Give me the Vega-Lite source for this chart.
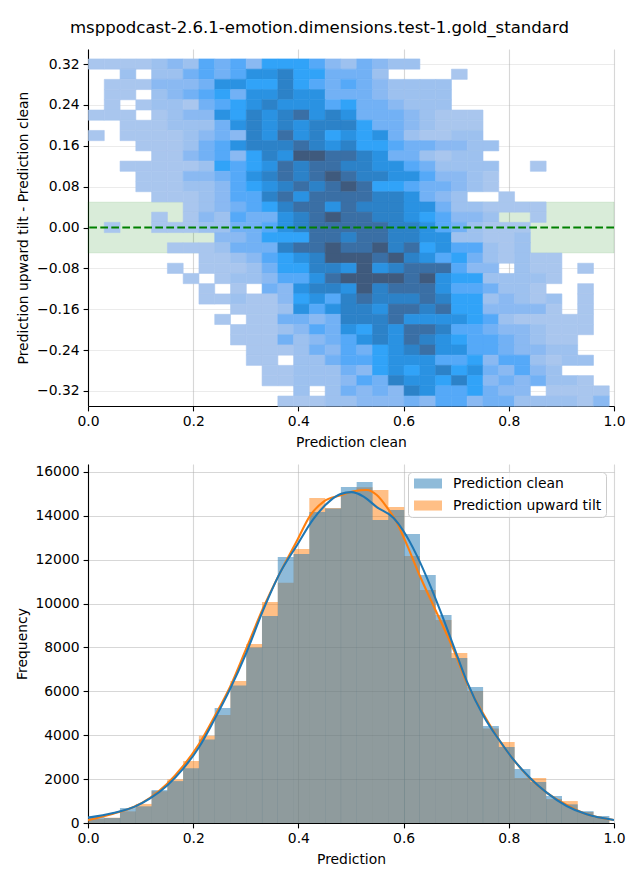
{"$schema":"https://vega.github.io/schema/vega-lite/v6.json","padding":{"left":15,"top":20,"right":5,"bottom":5},"background":"white","config":{"font":"DejaVu Sans","view":{"stroke":null},"axis":{"labelFontSize":13.9,"titleFontSize":13.9,"titleFontWeight":"normal","labelColor":"black","titleColor":"black","domainColor":"black","tickColor":"black","domainWidth":1.1,"tickWidth":1.1,"tickSize":4.9,"labelPadding":4,"gridColor":"#b0b0b0","gridOpacity":0.5,"gridWidth":1.1,"labelFlush":false,"labelOverlap":false,"zindex":1}},"title":{"text":"msppodcast-2.6.1-emotion.dimensions.test-1.gold_standard","fontSize":16.57,"fontWeight":"normal","font":"DejaVu Sans","anchor":"start","dx":54,"offset":12},"spacing":14,"datasets":{"heat":[
{"x":0.015,"y":0.321,"n":1},{"x":0.045,"y":0.321,"n":1},{"x":0.075,"y":0.321,"n":1},{"x":0.105,"y":0.321,"n":1},{"x":0.135,"y":0.321,"n":2},{"x":0.165,"y":0.321,"n":3},{"x":0.195,"y":0.321,"n":2},{"x":0.225,"y":0.321,"n":5},{"x":0.255,"y":0.321,"n":4},{"x":0.285,"y":0.321,"n":5},{"x":0.315,"y":0.321,"n":3},{"x":0.345,"y":0.321,"n":6},{"x":0.375,"y":0.321,"n":6},{"x":0.405,"y":0.321,"n":6},{"x":0.435,"y":0.321,"n":5},{"x":0.465,"y":0.321,"n":3},{"x":0.495,"y":0.321,"n":2},{"x":0.525,"y":0.321,"n":4},{"x":0.555,"y":0.321,"n":3},{"x":0.585,"y":0.321,"n":2},{"x":0.615,"y":0.321,"n":2},
{"x":0.075,"y":0.301,"n":2},{"x":0.135,"y":0.301,"n":2},{"x":0.165,"y":0.301,"n":2},{"x":0.195,"y":0.301,"n":4},{"x":0.225,"y":0.301,"n":5},{"x":0.255,"y":0.301,"n":4},{"x":0.285,"y":0.301,"n":5},{"x":0.315,"y":0.301,"n":7},{"x":0.345,"y":0.301,"n":7},{"x":0.375,"y":0.301,"n":8},{"x":0.405,"y":0.301,"n":6},{"x":0.435,"y":0.301,"n":6},{"x":0.465,"y":0.301,"n":4},{"x":0.495,"y":0.301,"n":4},{"x":0.525,"y":0.301,"n":4},{"x":0.555,"y":0.301,"n":2},{"x":0.705,"y":0.301,"n":1},
{"x":0.045,"y":0.281,"n":1},{"x":0.075,"y":0.281,"n":1},{"x":0.105,"y":0.281,"n":1},{"x":0.135,"y":0.281,"n":3},{"x":0.165,"y":0.281,"n":3},{"x":0.195,"y":0.281,"n":3},{"x":0.225,"y":0.281,"n":4},{"x":0.255,"y":0.281,"n":7},{"x":0.285,"y":0.281,"n":7},{"x":0.315,"y":0.281,"n":6},{"x":0.345,"y":0.281,"n":6},{"x":0.375,"y":0.281,"n":8},{"x":0.405,"y":0.281,"n":6},{"x":0.435,"y":0.281,"n":5},{"x":0.465,"y":0.281,"n":4},{"x":0.495,"y":0.281,"n":5},{"x":0.525,"y":0.281,"n":4},{"x":0.555,"y":0.281,"n":3},{"x":0.585,"y":0.281,"n":2},{"x":0.615,"y":0.281,"n":2},{"x":0.645,"y":0.281,"n":2},{"x":0.675,"y":0.281,"n":2},
{"x":0.045,"y":0.261,"n":1},{"x":0.075,"y":0.261,"n":1},{"x":0.135,"y":0.261,"n":2},{"x":0.165,"y":0.261,"n":3},{"x":0.195,"y":0.261,"n":4},{"x":0.225,"y":0.261,"n":5},{"x":0.255,"y":0.261,"n":6},{"x":0.285,"y":0.261,"n":4},{"x":0.315,"y":0.261,"n":7},{"x":0.345,"y":0.261,"n":7},{"x":0.375,"y":0.261,"n":8},{"x":0.405,"y":0.261,"n":7},{"x":0.435,"y":0.261,"n":7},{"x":0.465,"y":0.261,"n":4},{"x":0.495,"y":0.261,"n":4},{"x":0.525,"y":0.261,"n":4},{"x":0.555,"y":0.261,"n":3},{"x":0.585,"y":0.261,"n":2},{"x":0.615,"y":0.261,"n":2},{"x":0.645,"y":0.261,"n":2},{"x":0.675,"y":0.261,"n":2},
{"x":0.045,"y":0.241,"n":1},{"x":0.105,"y":0.241,"n":1},{"x":0.135,"y":0.241,"n":2},{"x":0.165,"y":0.241,"n":2},{"x":0.195,"y":0.241,"n":1},{"x":0.225,"y":0.241,"n":4},{"x":0.255,"y":0.241,"n":5},{"x":0.285,"y":0.241,"n":6},{"x":0.315,"y":0.241,"n":7},{"x":0.345,"y":0.241,"n":8},{"x":0.375,"y":0.241,"n":7},{"x":0.405,"y":0.241,"n":7},{"x":0.435,"y":0.241,"n":7},{"x":0.465,"y":0.241,"n":5},{"x":0.495,"y":0.241,"n":6},{"x":0.525,"y":0.241,"n":4},{"x":0.555,"y":0.241,"n":4},{"x":0.585,"y":0.241,"n":3},{"x":0.615,"y":0.241,"n":2},{"x":0.645,"y":0.241,"n":2},{"x":0.675,"y":0.241,"n":2},
{"x":0.015,"y":0.221,"n":1},{"x":0.045,"y":0.221,"n":1},{"x":0.075,"y":0.221,"n":1},{"x":0.135,"y":0.221,"n":1},{"x":0.165,"y":0.221,"n":2},{"x":0.195,"y":0.221,"n":3},{"x":0.225,"y":0.221,"n":3},{"x":0.255,"y":0.221,"n":7},{"x":0.285,"y":0.221,"n":6},{"x":0.315,"y":0.221,"n":8},{"x":0.345,"y":0.221,"n":7},{"x":0.375,"y":0.221,"n":8},{"x":0.405,"y":0.221,"n":9},{"x":0.435,"y":0.221,"n":7},{"x":0.465,"y":0.221,"n":8},{"x":0.495,"y":0.221,"n":7},{"x":0.525,"y":0.221,"n":4},{"x":0.555,"y":0.221,"n":4},{"x":0.585,"y":0.221,"n":4},{"x":0.615,"y":0.221,"n":3},{"x":0.645,"y":0.221,"n":2},{"x":0.675,"y":0.221,"n":1},{"x":0.705,"y":0.221,"n":1},{"x":0.735,"y":0.221,"n":1},
{"x":0.075,"y":0.201,"n":1},{"x":0.105,"y":0.201,"n":1},{"x":0.135,"y":0.201,"n":1},{"x":0.165,"y":0.201,"n":2},{"x":0.195,"y":0.201,"n":2},{"x":0.225,"y":0.201,"n":2},{"x":0.255,"y":0.201,"n":4},{"x":0.285,"y":0.201,"n":7},{"x":0.315,"y":0.201,"n":8},{"x":0.345,"y":0.201,"n":7},{"x":0.375,"y":0.201,"n":8},{"x":0.405,"y":0.201,"n":7},{"x":0.435,"y":0.201,"n":8},{"x":0.465,"y":0.201,"n":8},{"x":0.495,"y":0.201,"n":8},{"x":0.525,"y":0.201,"n":6},{"x":0.555,"y":0.201,"n":4},{"x":0.585,"y":0.201,"n":4},{"x":0.615,"y":0.201,"n":3},{"x":0.645,"y":0.201,"n":2},{"x":0.675,"y":0.201,"n":1},{"x":0.705,"y":0.201,"n":1},{"x":0.735,"y":0.201,"n":1},
{"x":0.015,"y":0.181,"n":1},{"x":0.075,"y":0.181,"n":1},{"x":0.105,"y":0.181,"n":1},{"x":0.135,"y":0.181,"n":1},{"x":0.165,"y":0.181,"n":1},{"x":0.195,"y":0.181,"n":2},{"x":0.225,"y":0.181,"n":3},{"x":0.255,"y":0.181,"n":4},{"x":0.285,"y":0.181,"n":3},{"x":0.315,"y":0.181,"n":8},{"x":0.345,"y":0.181,"n":7},{"x":0.375,"y":0.181,"n":9},{"x":0.405,"y":0.181,"n":7},{"x":0.435,"y":0.181,"n":8},{"x":0.465,"y":0.181,"n":6},{"x":0.495,"y":0.181,"n":7},{"x":0.525,"y":0.181,"n":6},{"x":0.555,"y":0.181,"n":7},{"x":0.585,"y":0.181,"n":4},{"x":0.615,"y":0.181,"n":2},{"x":0.645,"y":0.181,"n":1},{"x":0.675,"y":0.181,"n":1},{"x":0.705,"y":0.181,"n":2},{"x":0.735,"y":0.181,"n":2},
{"x":0.105,"y":0.161,"n":1},{"x":0.135,"y":0.161,"n":1},{"x":0.165,"y":0.161,"n":1},{"x":0.195,"y":0.161,"n":2},{"x":0.225,"y":0.161,"n":4},{"x":0.255,"y":0.161,"n":5},{"x":0.285,"y":0.161,"n":7},{"x":0.315,"y":0.161,"n":8},{"x":0.345,"y":0.161,"n":8},{"x":0.375,"y":0.161,"n":8},{"x":0.405,"y":0.161,"n":9},{"x":0.435,"y":0.161,"n":8},{"x":0.465,"y":0.161,"n":7},{"x":0.495,"y":0.161,"n":8},{"x":0.525,"y":0.161,"n":6},{"x":0.555,"y":0.161,"n":6},{"x":0.585,"y":0.161,"n":5},{"x":0.615,"y":0.161,"n":4},{"x":0.645,"y":0.161,"n":4},{"x":0.675,"y":0.161,"n":3},{"x":0.705,"y":0.161,"n":3},{"x":0.735,"y":0.161,"n":2},{"x":0.765,"y":0.161,"n":2},
{"x":0.135,"y":0.141,"n":1},{"x":0.165,"y":0.141,"n":1},{"x":0.195,"y":0.141,"n":3},{"x":0.225,"y":0.141,"n":4},{"x":0.255,"y":0.141,"n":5},{"x":0.285,"y":0.141,"n":3},{"x":0.315,"y":0.141,"n":6},{"x":0.345,"y":0.141,"n":8},{"x":0.375,"y":0.141,"n":7},{"x":0.405,"y":0.141,"n":10},{"x":0.435,"y":0.141,"n":10},{"x":0.465,"y":0.141,"n":9},{"x":0.495,"y":0.141,"n":9},{"x":0.525,"y":0.141,"n":8},{"x":0.555,"y":0.141,"n":7},{"x":0.585,"y":0.141,"n":4},{"x":0.615,"y":0.141,"n":4},{"x":0.645,"y":0.141,"n":2},{"x":0.675,"y":0.141,"n":1},{"x":0.705,"y":0.141,"n":2},{"x":0.735,"y":0.141,"n":2},
{"x":0.075,"y":0.121,"n":1},{"x":0.105,"y":0.121,"n":1},{"x":0.135,"y":0.121,"n":1},{"x":0.165,"y":0.121,"n":1},{"x":0.195,"y":0.121,"n":1},{"x":0.225,"y":0.121,"n":2},{"x":0.255,"y":0.121,"n":6},{"x":0.285,"y":0.121,"n":5},{"x":0.315,"y":0.121,"n":6},{"x":0.345,"y":0.121,"n":7},{"x":0.375,"y":0.121,"n":9},{"x":0.405,"y":0.121,"n":8},{"x":0.435,"y":0.121,"n":9},{"x":0.465,"y":0.121,"n":9},{"x":0.495,"y":0.121,"n":8},{"x":0.525,"y":0.121,"n":8},{"x":0.555,"y":0.121,"n":7},{"x":0.585,"y":0.121,"n":7},{"x":0.615,"y":0.121,"n":5},{"x":0.645,"y":0.121,"n":4},{"x":0.675,"y":0.121,"n":2},{"x":0.705,"y":0.121,"n":2},{"x":0.735,"y":0.121,"n":2},{"x":0.765,"y":0.121,"n":2},{"x":0.855,"y":0.121,"n":1},
{"x":0.105,"y":0.101,"n":1},{"x":0.135,"y":0.101,"n":1},{"x":0.165,"y":0.101,"n":1},{"x":0.195,"y":0.101,"n":3},{"x":0.225,"y":0.101,"n":3},{"x":0.255,"y":0.101,"n":4},{"x":0.285,"y":0.101,"n":5},{"x":0.315,"y":0.101,"n":7},{"x":0.345,"y":0.101,"n":8},{"x":0.375,"y":0.101,"n":9},{"x":0.405,"y":0.101,"n":8},{"x":0.435,"y":0.101,"n":9},{"x":0.465,"y":0.101,"n":10},{"x":0.495,"y":0.101,"n":9},{"x":0.525,"y":0.101,"n":8},{"x":0.555,"y":0.101,"n":8},{"x":0.585,"y":0.101,"n":7},{"x":0.615,"y":0.101,"n":7},{"x":0.645,"y":0.101,"n":5},{"x":0.675,"y":0.101,"n":3},{"x":0.705,"y":0.101,"n":3},{"x":0.735,"y":0.101,"n":2},{"x":0.765,"y":0.101,"n":1},
{"x":0.105,"y":0.081,"n":1},{"x":0.135,"y":0.081,"n":1},{"x":0.165,"y":0.081,"n":1},{"x":0.195,"y":0.081,"n":2},{"x":0.225,"y":0.081,"n":2},{"x":0.255,"y":0.081,"n":3},{"x":0.285,"y":0.081,"n":5},{"x":0.315,"y":0.081,"n":6},{"x":0.345,"y":0.081,"n":7},{"x":0.375,"y":0.081,"n":8},{"x":0.405,"y":0.081,"n":9},{"x":0.435,"y":0.081,"n":8},{"x":0.465,"y":0.081,"n":9},{"x":0.495,"y":0.081,"n":10},{"x":0.525,"y":0.081,"n":9},{"x":0.555,"y":0.081,"n":6},{"x":0.585,"y":0.081,"n":6},{"x":0.615,"y":0.081,"n":5},{"x":0.645,"y":0.081,"n":4},{"x":0.675,"y":0.081,"n":4},{"x":0.705,"y":0.081,"n":3},{"x":0.735,"y":0.081,"n":2},{"x":0.765,"y":0.081,"n":1},
{"x":0.135,"y":0.061,"n":1},{"x":0.165,"y":0.061,"n":1},{"x":0.195,"y":0.061,"n":1},{"x":0.225,"y":0.061,"n":2},{"x":0.255,"y":0.061,"n":3},{"x":0.285,"y":0.061,"n":5},{"x":0.315,"y":0.061,"n":5},{"x":0.345,"y":0.061,"n":8},{"x":0.375,"y":0.061,"n":9},{"x":0.405,"y":0.061,"n":7},{"x":0.435,"y":0.061,"n":9},{"x":0.465,"y":0.061,"n":9},{"x":0.495,"y":0.061,"n":9},{"x":0.525,"y":0.061,"n":9},{"x":0.555,"y":0.061,"n":8},{"x":0.585,"y":0.061,"n":8},{"x":0.615,"y":0.061,"n":7},{"x":0.645,"y":0.061,"n":4},{"x":0.675,"y":0.061,"n":3},{"x":0.705,"y":0.061,"n":2},{"x":0.795,"y":0.061,"n":1},
{"x":0.195,"y":0.041,"n":1},{"x":0.225,"y":0.041,"n":2},{"x":0.255,"y":0.041,"n":3},{"x":0.285,"y":0.041,"n":4},{"x":0.315,"y":0.041,"n":5},{"x":0.345,"y":0.041,"n":6},{"x":0.375,"y":0.041,"n":8},{"x":0.405,"y":0.041,"n":9},{"x":0.435,"y":0.041,"n":9},{"x":0.465,"y":0.041,"n":7},{"x":0.495,"y":0.041,"n":9},{"x":0.525,"y":0.041,"n":8},{"x":0.555,"y":0.041,"n":8},{"x":0.585,"y":0.041,"n":8},{"x":0.615,"y":0.041,"n":7},{"x":0.645,"y":0.041,"n":7},{"x":0.675,"y":0.041,"n":4},{"x":0.705,"y":0.041,"n":2},{"x":0.735,"y":0.041,"n":2},{"x":0.765,"y":0.041,"n":1},{"x":0.795,"y":0.041,"n":1},{"x":0.825,"y":0.041,"n":1},{"x":0.855,"y":0.041,"n":1},
{"x":0.135,"y":0.021,"n":1},{"x":0.195,"y":0.021,"n":1},{"x":0.225,"y":0.021,"n":3},{"x":0.255,"y":0.021,"n":2},{"x":0.285,"y":0.021,"n":5},{"x":0.315,"y":0.021,"n":4},{"x":0.345,"y":0.021,"n":4},{"x":0.375,"y":0.021,"n":7},{"x":0.405,"y":0.021,"n":8},{"x":0.435,"y":0.021,"n":9},{"x":0.465,"y":0.021,"n":10},{"x":0.495,"y":0.021,"n":9},{"x":0.525,"y":0.021,"n":9},{"x":0.555,"y":0.021,"n":8},{"x":0.585,"y":0.021,"n":8},{"x":0.615,"y":0.021,"n":7},{"x":0.645,"y":0.021,"n":6},{"x":0.675,"y":0.021,"n":5},{"x":0.705,"y":0.021,"n":3},{"x":0.735,"y":0.021,"n":3},{"x":0.765,"y":0.021,"n":2},{"x":0.855,"y":0.021,"n":1},
{"x":0.045,"y":0.001,"n":1},{"x":0.135,"y":0.001,"n":1},{"x":0.165,"y":0.001,"n":1},{"x":0.195,"y":0.001,"n":1},{"x":0.225,"y":0.001,"n":2},{"x":0.255,"y":0.001,"n":2},{"x":0.285,"y":0.001,"n":4},{"x":0.315,"y":0.001,"n":4},{"x":0.345,"y":0.001,"n":5},{"x":0.375,"y":0.001,"n":7},{"x":0.405,"y":0.001,"n":8},{"x":0.435,"y":0.001,"n":9},{"x":0.465,"y":0.001,"n":9},{"x":0.495,"y":0.001,"n":9},{"x":0.525,"y":0.001,"n":9},{"x":0.555,"y":0.001,"n":9},{"x":0.585,"y":0.001,"n":8},{"x":0.615,"y":0.001,"n":8},{"x":0.645,"y":0.001,"n":7},{"x":0.675,"y":0.001,"n":5},{"x":0.705,"y":0.001,"n":4},{"x":0.735,"y":0.001,"n":2},{"x":0.765,"y":0.001,"n":1},{"x":0.795,"y":0.001,"n":1},{"x":0.825,"y":0.001,"n":1},
{"x":0.255,"y":-0.019,"n":3},{"x":0.285,"y":-0.019,"n":3},{"x":0.315,"y":-0.019,"n":4},{"x":0.345,"y":-0.019,"n":6},{"x":0.375,"y":-0.019,"n":6},{"x":0.405,"y":-0.019,"n":6},{"x":0.435,"y":-0.019,"n":9},{"x":0.465,"y":-0.019,"n":9},{"x":0.495,"y":-0.019,"n":8},{"x":0.525,"y":-0.019,"n":9},{"x":0.555,"y":-0.019,"n":9},{"x":0.585,"y":-0.019,"n":8},{"x":0.615,"y":-0.019,"n":8},{"x":0.645,"y":-0.019,"n":7},{"x":0.675,"y":-0.019,"n":7},{"x":0.705,"y":-0.019,"n":2},{"x":0.735,"y":-0.019,"n":2},{"x":0.765,"y":-0.019,"n":1},{"x":0.795,"y":-0.019,"n":1},{"x":0.825,"y":-0.019,"n":2},
{"x":0.165,"y":-0.039,"n":1},{"x":0.195,"y":-0.039,"n":1},{"x":0.225,"y":-0.039,"n":1},{"x":0.255,"y":-0.039,"n":2},{"x":0.285,"y":-0.039,"n":4},{"x":0.315,"y":-0.039,"n":4},{"x":0.345,"y":-0.039,"n":4},{"x":0.375,"y":-0.039,"n":8},{"x":0.405,"y":-0.039,"n":9},{"x":0.435,"y":-0.039,"n":9},{"x":0.465,"y":-0.039,"n":10},{"x":0.495,"y":-0.039,"n":9},{"x":0.525,"y":-0.039,"n":9},{"x":0.555,"y":-0.039,"n":10},{"x":0.585,"y":-0.039,"n":8},{"x":0.615,"y":-0.039,"n":9},{"x":0.645,"y":-0.039,"n":6},{"x":0.675,"y":-0.039,"n":7},{"x":0.705,"y":-0.039,"n":5},{"x":0.735,"y":-0.039,"n":5},{"x":0.765,"y":-0.039,"n":2},{"x":0.795,"y":-0.039,"n":1},{"x":0.825,"y":-0.039,"n":2},
{"x":0.225,"y":-0.059,"n":1},{"x":0.255,"y":-0.059,"n":1},{"x":0.285,"y":-0.059,"n":2},{"x":0.315,"y":-0.059,"n":3},{"x":0.345,"y":-0.059,"n":5},{"x":0.375,"y":-0.059,"n":6},{"x":0.405,"y":-0.059,"n":7},{"x":0.435,"y":-0.059,"n":8},{"x":0.465,"y":-0.059,"n":10},{"x":0.495,"y":-0.059,"n":10},{"x":0.525,"y":-0.059,"n":10},{"x":0.555,"y":-0.059,"n":9},{"x":0.585,"y":-0.059,"n":10},{"x":0.615,"y":-0.059,"n":8},{"x":0.645,"y":-0.059,"n":7},{"x":0.675,"y":-0.059,"n":5},{"x":0.705,"y":-0.059,"n":6},{"x":0.735,"y":-0.059,"n":4},{"x":0.765,"y":-0.059,"n":2},{"x":0.795,"y":-0.059,"n":1},{"x":0.825,"y":-0.059,"n":2},{"x":0.855,"y":-0.059,"n":1},{"x":0.885,"y":-0.059,"n":1},
{"x":0.165,"y":-0.079,"n":1},{"x":0.225,"y":-0.079,"n":1},{"x":0.255,"y":-0.079,"n":1},{"x":0.285,"y":-0.079,"n":1},{"x":0.315,"y":-0.079,"n":2},{"x":0.345,"y":-0.079,"n":4},{"x":0.375,"y":-0.079,"n":6},{"x":0.405,"y":-0.079,"n":6},{"x":0.435,"y":-0.079,"n":8},{"x":0.465,"y":-0.079,"n":8},{"x":0.495,"y":-0.079,"n":7},{"x":0.525,"y":-0.079,"n":10},{"x":0.555,"y":-0.079,"n":7},{"x":0.585,"y":-0.079,"n":8},{"x":0.615,"y":-0.079,"n":9},{"x":0.645,"y":-0.079,"n":9},{"x":0.675,"y":-0.079,"n":9},{"x":0.705,"y":-0.079,"n":5},{"x":0.735,"y":-0.079,"n":3},{"x":0.765,"y":-0.079,"n":3},{"x":0.825,"y":-0.079,"n":2},{"x":0.855,"y":-0.079,"n":1},{"x":0.885,"y":-0.079,"n":1},{"x":0.945,"y":-0.079,"n":1},
{"x":0.195,"y":-0.099,"n":1},{"x":0.255,"y":-0.099,"n":1},{"x":0.285,"y":-0.099,"n":2},{"x":0.315,"y":-0.099,"n":2},{"x":0.345,"y":-0.099,"n":3},{"x":0.375,"y":-0.099,"n":5},{"x":0.405,"y":-0.099,"n":5},{"x":0.435,"y":-0.099,"n":7},{"x":0.465,"y":-0.099,"n":9},{"x":0.495,"y":-0.099,"n":10},{"x":0.525,"y":-0.099,"n":10},{"x":0.555,"y":-0.099,"n":10},{"x":0.585,"y":-0.099,"n":10},{"x":0.615,"y":-0.099,"n":9},{"x":0.645,"y":-0.099,"n":10},{"x":0.675,"y":-0.099,"n":7},{"x":0.705,"y":-0.099,"n":6},{"x":0.735,"y":-0.099,"n":6},{"x":0.765,"y":-0.099,"n":2},{"x":0.795,"y":-0.099,"n":2},{"x":0.825,"y":-0.099,"n":2},{"x":0.855,"y":-0.099,"n":2},{"x":0.885,"y":-0.099,"n":1},
{"x":0.225,"y":-0.119,"n":1},{"x":0.285,"y":-0.119,"n":1},{"x":0.345,"y":-0.119,"n":4},{"x":0.375,"y":-0.119,"n":3},{"x":0.405,"y":-0.119,"n":7},{"x":0.435,"y":-0.119,"n":8},{"x":0.465,"y":-0.119,"n":8},{"x":0.495,"y":-0.119,"n":7},{"x":0.525,"y":-0.119,"n":10},{"x":0.555,"y":-0.119,"n":8},{"x":0.585,"y":-0.119,"n":9},{"x":0.615,"y":-0.119,"n":9},{"x":0.645,"y":-0.119,"n":9},{"x":0.675,"y":-0.119,"n":7},{"x":0.705,"y":-0.119,"n":5},{"x":0.735,"y":-0.119,"n":5},{"x":0.765,"y":-0.119,"n":4},{"x":0.795,"y":-0.119,"n":2},{"x":0.825,"y":-0.119,"n":2},{"x":0.855,"y":-0.119,"n":1},{"x":0.945,"y":-0.119,"n":1},
{"x":0.225,"y":-0.139,"n":1},{"x":0.255,"y":-0.139,"n":1},{"x":0.285,"y":-0.139,"n":2},{"x":0.315,"y":-0.139,"n":1},{"x":0.345,"y":-0.139,"n":1},{"x":0.375,"y":-0.139,"n":3},{"x":0.405,"y":-0.139,"n":6},{"x":0.435,"y":-0.139,"n":7},{"x":0.465,"y":-0.139,"n":5},{"x":0.495,"y":-0.139,"n":8},{"x":0.525,"y":-0.139,"n":9},{"x":0.555,"y":-0.139,"n":8},{"x":0.585,"y":-0.139,"n":8},{"x":0.615,"y":-0.139,"n":8},{"x":0.645,"y":-0.139,"n":9},{"x":0.675,"y":-0.139,"n":8},{"x":0.705,"y":-0.139,"n":6},{"x":0.735,"y":-0.139,"n":6},{"x":0.765,"y":-0.139,"n":2},{"x":0.795,"y":-0.139,"n":3},{"x":0.825,"y":-0.139,"n":2},{"x":0.855,"y":-0.139,"n":1},{"x":0.885,"y":-0.139,"n":2},{"x":0.945,"y":-0.139,"n":1},
{"x":0.285,"y":-0.159,"n":1},{"x":0.315,"y":-0.159,"n":1},{"x":0.345,"y":-0.159,"n":1},{"x":0.375,"y":-0.159,"n":2},{"x":0.405,"y":-0.159,"n":7},{"x":0.435,"y":-0.159,"n":5},{"x":0.465,"y":-0.159,"n":7},{"x":0.495,"y":-0.159,"n":8},{"x":0.525,"y":-0.159,"n":8},{"x":0.555,"y":-0.159,"n":7},{"x":0.585,"y":-0.159,"n":9},{"x":0.615,"y":-0.159,"n":9},{"x":0.645,"y":-0.159,"n":8},{"x":0.675,"y":-0.159,"n":9},{"x":0.705,"y":-0.159,"n":6},{"x":0.735,"y":-0.159,"n":6},{"x":0.765,"y":-0.159,"n":3},{"x":0.795,"y":-0.159,"n":3},{"x":0.825,"y":-0.159,"n":3},{"x":0.855,"y":-0.159,"n":3},{"x":0.885,"y":-0.159,"n":1},{"x":0.945,"y":-0.159,"n":1},
{"x":0.255,"y":-0.179,"n":1},{"x":0.315,"y":-0.179,"n":1},{"x":0.345,"y":-0.179,"n":1},{"x":0.375,"y":-0.179,"n":4},{"x":0.405,"y":-0.179,"n":4},{"x":0.435,"y":-0.179,"n":3},{"x":0.465,"y":-0.179,"n":4},{"x":0.495,"y":-0.179,"n":8},{"x":0.525,"y":-0.179,"n":8},{"x":0.555,"y":-0.179,"n":8},{"x":0.585,"y":-0.179,"n":9},{"x":0.615,"y":-0.179,"n":7},{"x":0.645,"y":-0.179,"n":7},{"x":0.675,"y":-0.179,"n":7},{"x":0.705,"y":-0.179,"n":7},{"x":0.735,"y":-0.179,"n":6},{"x":0.765,"y":-0.179,"n":5},{"x":0.795,"y":-0.179,"n":2},{"x":0.825,"y":-0.179,"n":1},{"x":0.855,"y":-0.179,"n":1},{"x":0.885,"y":-0.179,"n":1},{"x":0.915,"y":-0.179,"n":1},{"x":0.945,"y":-0.179,"n":1},
{"x":0.285,"y":-0.199,"n":1},{"x":0.315,"y":-0.199,"n":1},{"x":0.345,"y":-0.199,"n":1},{"x":0.375,"y":-0.199,"n":2},{"x":0.405,"y":-0.199,"n":3},{"x":0.435,"y":-0.199,"n":5},{"x":0.465,"y":-0.199,"n":4},{"x":0.495,"y":-0.199,"n":7},{"x":0.525,"y":-0.199,"n":6},{"x":0.555,"y":-0.199,"n":8},{"x":0.585,"y":-0.199,"n":7},{"x":0.615,"y":-0.199,"n":9},{"x":0.645,"y":-0.199,"n":9},{"x":0.675,"y":-0.199,"n":8},{"x":0.705,"y":-0.199,"n":5},{"x":0.735,"y":-0.199,"n":5},{"x":0.765,"y":-0.199,"n":4},{"x":0.795,"y":-0.199,"n":3},{"x":0.825,"y":-0.199,"n":3},{"x":0.855,"y":-0.199,"n":2},{"x":0.885,"y":-0.199,"n":1},{"x":0.915,"y":-0.199,"n":1},{"x":0.945,"y":-0.199,"n":1},
{"x":0.285,"y":-0.219,"n":1},{"x":0.315,"y":-0.219,"n":1},{"x":0.345,"y":-0.219,"n":1},{"x":0.375,"y":-0.219,"n":4},{"x":0.405,"y":-0.219,"n":2},{"x":0.435,"y":-0.219,"n":3},{"x":0.465,"y":-0.219,"n":4},{"x":0.495,"y":-0.219,"n":5},{"x":0.525,"y":-0.219,"n":7},{"x":0.555,"y":-0.219,"n":8},{"x":0.585,"y":-0.219,"n":7},{"x":0.615,"y":-0.219,"n":9},{"x":0.645,"y":-0.219,"n":8},{"x":0.675,"y":-0.219,"n":7},{"x":0.705,"y":-0.219,"n":6},{"x":0.735,"y":-0.219,"n":5},{"x":0.765,"y":-0.219,"n":5},{"x":0.795,"y":-0.219,"n":4},{"x":0.825,"y":-0.219,"n":3},{"x":0.855,"y":-0.219,"n":2},{"x":0.885,"y":-0.219,"n":1},{"x":0.915,"y":-0.219,"n":1},
{"x":0.315,"y":-0.239,"n":1},{"x":0.345,"y":-0.239,"n":1},{"x":0.375,"y":-0.239,"n":1},{"x":0.405,"y":-0.239,"n":2},{"x":0.435,"y":-0.239,"n":4},{"x":0.465,"y":-0.239,"n":3},{"x":0.495,"y":-0.239,"n":5},{"x":0.525,"y":-0.239,"n":4},{"x":0.555,"y":-0.239,"n":6},{"x":0.585,"y":-0.239,"n":7},{"x":0.615,"y":-0.239,"n":8},{"x":0.645,"y":-0.239,"n":9},{"x":0.675,"y":-0.239,"n":7},{"x":0.705,"y":-0.239,"n":7},{"x":0.735,"y":-0.239,"n":5},{"x":0.765,"y":-0.239,"n":5},{"x":0.795,"y":-0.239,"n":4},{"x":0.825,"y":-0.239,"n":3},{"x":0.855,"y":-0.239,"n":3},{"x":0.885,"y":-0.239,"n":2},{"x":0.915,"y":-0.239,"n":2},
{"x":0.315,"y":-0.259,"n":1},{"x":0.345,"y":-0.259,"n":1},{"x":0.405,"y":-0.259,"n":2},{"x":0.435,"y":-0.259,"n":2},{"x":0.465,"y":-0.259,"n":4},{"x":0.495,"y":-0.259,"n":5},{"x":0.525,"y":-0.259,"n":5},{"x":0.555,"y":-0.259,"n":6},{"x":0.585,"y":-0.259,"n":7},{"x":0.615,"y":-0.259,"n":7},{"x":0.645,"y":-0.259,"n":7},{"x":0.675,"y":-0.259,"n":5},{"x":0.705,"y":-0.259,"n":5},{"x":0.735,"y":-0.259,"n":6},{"x":0.765,"y":-0.259,"n":3},{"x":0.795,"y":-0.259,"n":5},{"x":0.825,"y":-0.259,"n":5},{"x":0.855,"y":-0.259,"n":2},{"x":0.885,"y":-0.259,"n":1},{"x":0.915,"y":-0.259,"n":2},{"x":0.945,"y":-0.259,"n":2},
{"x":0.345,"y":-0.279,"n":1},{"x":0.375,"y":-0.279,"n":1},{"x":0.405,"y":-0.279,"n":2},{"x":0.435,"y":-0.279,"n":2},{"x":0.465,"y":-0.279,"n":2},{"x":0.495,"y":-0.279,"n":4},{"x":0.525,"y":-0.279,"n":3},{"x":0.555,"y":-0.279,"n":6},{"x":0.585,"y":-0.279,"n":7},{"x":0.615,"y":-0.279,"n":6},{"x":0.645,"y":-0.279,"n":7},{"x":0.675,"y":-0.279,"n":8},{"x":0.705,"y":-0.279,"n":6},{"x":0.735,"y":-0.279,"n":7},{"x":0.765,"y":-0.279,"n":4},{"x":0.795,"y":-0.279,"n":3},{"x":0.825,"y":-0.279,"n":5},{"x":0.855,"y":-0.279,"n":3},{"x":0.885,"y":-0.279,"n":2},
{"x":0.345,"y":-0.299,"n":1},{"x":0.375,"y":-0.299,"n":1},{"x":0.405,"y":-0.299,"n":2},{"x":0.435,"y":-0.299,"n":2},{"x":0.465,"y":-0.299,"n":2},{"x":0.495,"y":-0.299,"n":3},{"x":0.525,"y":-0.299,"n":5},{"x":0.555,"y":-0.299,"n":4},{"x":0.585,"y":-0.299,"n":8},{"x":0.615,"y":-0.299,"n":7},{"x":0.645,"y":-0.299,"n":7},{"x":0.675,"y":-0.299,"n":6},{"x":0.705,"y":-0.299,"n":8},{"x":0.735,"y":-0.299,"n":6},{"x":0.765,"y":-0.299,"n":3},{"x":0.795,"y":-0.299,"n":4},{"x":0.825,"y":-0.299,"n":3},{"x":0.855,"y":-0.299,"n":4},{"x":0.885,"y":-0.299,"n":2},{"x":0.915,"y":-0.299,"n":2},{"x":0.945,"y":-0.299,"n":1},
{"x":0.405,"y":-0.319,"n":2},{"x":0.465,"y":-0.319,"n":2},{"x":0.495,"y":-0.319,"n":4},{"x":0.525,"y":-0.319,"n":3},{"x":0.555,"y":-0.319,"n":4},{"x":0.585,"y":-0.319,"n":3},{"x":0.615,"y":-0.319,"n":8},{"x":0.645,"y":-0.319,"n":7},{"x":0.675,"y":-0.319,"n":5},{"x":0.705,"y":-0.319,"n":5},{"x":0.735,"y":-0.319,"n":6},{"x":0.765,"y":-0.319,"n":4},{"x":0.795,"y":-0.319,"n":3},{"x":0.825,"y":-0.319,"n":3},{"x":0.885,"y":-0.319,"n":1},{"x":0.915,"y":-0.319,"n":1},{"x":0.945,"y":-0.319,"n":1},{"x":0.975,"y":-0.319,"n":1},
{"x":0.375,"y":-0.339,"n":1},{"x":0.405,"y":-0.339,"n":1},{"x":0.435,"y":-0.339,"n":1},{"x":0.465,"y":-0.339,"n":2},{"x":0.495,"y":-0.339,"n":2},{"x":0.525,"y":-0.339,"n":3},{"x":0.555,"y":-0.339,"n":3},{"x":0.585,"y":-0.339,"n":3},{"x":0.615,"y":-0.339,"n":4},{"x":0.645,"y":-0.339,"n":3},{"x":0.675,"y":-0.339,"n":5},{"x":0.705,"y":-0.339,"n":5},{"x":0.735,"y":-0.339,"n":3},{"x":0.765,"y":-0.339,"n":4},{"x":0.795,"y":-0.339,"n":4},{"x":0.825,"y":-0.339,"n":2},{"x":0.855,"y":-0.339,"n":2},{"x":0.885,"y":-0.339,"n":2},{"x":0.915,"y":-0.339,"n":2},{"x":0.945,"y":-0.339,"n":1},{"x":0.975,"y":-0.339,"n":3}
],"hist":[
{"x":0.015,"s":"Prediction upward tilt","f":190},{"x":0.045,"s":"Prediction upward tilt","f":240},{"x":0.075,"s":"Prediction upward tilt","f":530},{"x":0.105,"s":"Prediction upward tilt","f":870},{"x":0.135,"s":"Prediction upward tilt","f":1450},{"x":0.165,"s":"Prediction upward tilt","f":1990},{"x":0.195,"s":"Prediction upward tilt","f":2825},{"x":0.225,"s":"Prediction upward tilt","f":3980},{"x":0.255,"s":"Prediction upward tilt","f":4920},{"x":0.285,"s":"Prediction upward tilt","f":6470},{"x":0.315,"s":"Prediction upward tilt","f":8160},{"x":0.345,"s":"Prediction upward tilt","f":10073},{"x":0.375,"s":"Prediction upward tilt","f":10950},{"x":0.405,"s":"Prediction upward tilt","f":12490},{"x":0.435,"s":"Prediction upward tilt","f":14813},{"x":0.465,"s":"Prediction upward tilt","f":14360},{"x":0.495,"s":"Prediction upward tilt","f":15060},{"x":0.525,"s":"Prediction upward tilt","f":15300},{"x":0.555,"s":"Prediction upward tilt","f":15180},{"x":0.585,"s":"Prediction upward tilt","f":14400},{"x":0.615,"s":"Prediction upward tilt","f":12170},{"x":0.645,"s":"Prediction upward tilt","f":10620},{"x":0.675,"s":"Prediction upward tilt","f":9250},{"x":0.705,"s":"Prediction upward tilt","f":7750},{"x":0.735,"s":"Prediction upward tilt","f":6015},{"x":0.765,"s":"Prediction upward tilt","f":4310},{"x":0.795,"s":"Prediction upward tilt","f":3690},{"x":0.825,"s":"Prediction upward tilt","f":2050},{"x":0.855,"s":"Prediction upward tilt","f":2050},{"x":0.885,"s":"Prediction upward tilt","f":1090},{"x":0.915,"s":"Prediction upward tilt","f":1000},{"x":0.945,"s":"Prediction upward tilt","f":500},{"x":0.975,"s":"Prediction upward tilt","f":230},
{"x":0.015,"s":"Prediction clean","f":300},{"x":0.045,"s":"Prediction clean","f":230},{"x":0.075,"s":"Prediction clean","f":680},{"x":0.105,"s":"Prediction clean","f":760},{"x":0.135,"s":"Prediction clean","f":1500},{"x":0.165,"s":"Prediction clean","f":1910},{"x":0.195,"s":"Prediction clean","f":2500},{"x":0.225,"s":"Prediction clean","f":3810},{"x":0.255,"s":"Prediction clean","f":5240},{"x":0.285,"s":"Prediction clean","f":6270},{"x":0.315,"s":"Prediction clean","f":8000},{"x":0.345,"s":"Prediction clean","f":9435},{"x":0.375,"s":"Prediction clean","f":12120},{"x":0.405,"s":"Prediction clean","f":12260},{"x":0.435,"s":"Prediction clean","f":14175},{"x":0.465,"s":"Prediction clean","f":14340},{"x":0.495,"s":"Prediction clean","f":15315},{"x":0.525,"s":"Prediction clean","f":15540},{"x":0.555,"s":"Prediction clean","f":13810},{"x":0.585,"s":"Prediction clean","f":14270},{"x":0.615,"s":"Prediction clean","f":13170},{"x":0.645,"s":"Prediction clean","f":11300},{"x":0.675,"s":"Prediction clean","f":9480},{"x":0.705,"s":"Prediction clean","f":7520},{"x":0.735,"s":"Prediction clean","f":6200},{"x":0.765,"s":"Prediction clean","f":4420},{"x":0.795,"s":"Prediction clean","f":3463},{"x":0.825,"s":"Prediction clean","f":2460},{"x":0.855,"s":"Prediction clean","f":1870},{"x":0.885,"s":"Prediction clean","f":1230},{"x":0.915,"s":"Prediction clean","f":850},{"x":0.945,"s":"Prediction clean","f":540},{"x":0.975,"s":"Prediction clean","f":320}
],"kde":[
{"x":0,"s":"Prediction upward tilt","f":130},{"x":0.048,"s":"Prediction upward tilt","f":425},{"x":0.089,"s":"Prediction upward tilt","f":750},{"x":0.118,"s":"Prediction upward tilt","f":1150},{"x":0.15,"s":"Prediction upward tilt","f":1780},{"x":0.181,"s":"Prediction upward tilt","f":2600},{"x":0.211,"s":"Prediction upward tilt","f":3600},{"x":0.24,"s":"Prediction upward tilt","f":4830},{"x":0.27,"s":"Prediction upward tilt","f":6200},{"x":0.3,"s":"Prediction upward tilt","f":7900},{"x":0.333,"s":"Prediction upward tilt","f":9800},{"x":0.365,"s":"Prediction upward tilt","f":11400},{"x":0.397,"s":"Prediction upward tilt","f":12850},{"x":0.422,"s":"Prediction upward tilt","f":14000},{"x":0.448,"s":"Prediction upward tilt","f":14650},{"x":0.479,"s":"Prediction upward tilt","f":14930},{"x":0.505,"s":"Prediction upward tilt","f":15118},{"x":0.53,"s":"Prediction upward tilt","f":15180},{"x":0.549,"s":"Prediction upward tilt","f":14950},{"x":0.568,"s":"Prediction upward tilt","f":14400},{"x":0.587,"s":"Prediction upward tilt","f":13700},{"x":0.606,"s":"Prediction upward tilt","f":12700},{"x":0.631,"s":"Prediction upward tilt","f":11258},{"x":0.657,"s":"Prediction upward tilt","f":9890},{"x":0.695,"s":"Prediction upward tilt","f":7900},{"x":0.72,"s":"Prediction upward tilt","f":6400},{"x":0.752,"s":"Prediction upward tilt","f":4952},{"x":0.783,"s":"Prediction upward tilt","f":3737},{"x":0.812,"s":"Prediction upward tilt","f":2795},{"x":0.84,"s":"Prediction upward tilt","f":2035},{"x":0.872,"s":"Prediction upward tilt","f":1382},{"x":0.91,"s":"Prediction upward tilt","f":820},{"x":0.948,"s":"Prediction upward tilt","f":395},{"x":1,"s":"Prediction upward tilt","f":137},
{"x":0,"s":"Prediction clean","f":243},{"x":0.048,"s":"Prediction clean","f":456},{"x":0.089,"s":"Prediction clean","f":745},{"x":0.118,"s":"Prediction clean","f":1120},{"x":0.15,"s":"Prediction clean","f":1700},{"x":0.181,"s":"Prediction clean","f":2480},{"x":0.211,"s":"Prediction clean","f":3450},{"x":0.24,"s":"Prediction clean","f":4700},{"x":0.27,"s":"Prediction clean","f":6100},{"x":0.3,"s":"Prediction clean","f":7700},{"x":0.333,"s":"Prediction clean","f":9700},{"x":0.365,"s":"Prediction clean","f":11400},{"x":0.397,"s":"Prediction clean","f":12650},{"x":0.428,"s":"Prediction clean","f":13840},{"x":0.46,"s":"Prediction clean","f":14680},{"x":0.479,"s":"Prediction clean","f":14980},{"x":0.501,"s":"Prediction clean","f":15080},{"x":0.524,"s":"Prediction clean","f":14880},{"x":0.549,"s":"Prediction clean","f":14400},{"x":0.581,"s":"Prediction clean","f":13900},{"x":0.6,"s":"Prediction clean","f":13300},{"x":0.625,"s":"Prediction clean","f":12200},{"x":0.651,"s":"Prediction clean","f":10800},{"x":0.676,"s":"Prediction clean","f":9284},{"x":0.695,"s":"Prediction clean","f":8067},{"x":0.72,"s":"Prediction clean","f":6471},{"x":0.752,"s":"Prediction clean","f":4876},{"x":0.783,"s":"Prediction clean","f":3737},{"x":0.812,"s":"Prediction clean","f":2795},{"x":0.84,"s":"Prediction clean","f":2066},{"x":0.872,"s":"Prediction clean","f":1382},{"x":0.91,"s":"Prediction clean","f":775},{"x":0.948,"s":"Prediction clean","f":395},{"x":1,"s":"Prediction clean","f":137}
]},"vconcat":[{"width":526,"height":357,"layer":[
{"data":{"values":[{"a":0,"b":1,"lo":-0.05,"hi":0.05}]},"mark":{"type":"rect","fill":"green","fillOpacity":0.15,"stroke":"green","strokeOpacity":0.08},"encoding":{"x":{"field":"a","type":"quantitative","scale":{"domain":[0,1],"nice":false},"title":"Prediction clean","axis":{"values":[0,0.2,0.4,0.6,0.8,1],"format":".1f","grid":true,"titlePadding":7}},"x2":{"field":"b"},"y":{"field":"lo","type":"quantitative","scale":{"domain":[-0.3495,0.3495],"nice":false},"title":"Prediction upward tilt - Prediction clean","axis":{"values":[-0.32,-0.24,-0.16,-0.08,0,0.08,0.16,0.24,0.32],"format":".2f","grid":true,"titlePadding":6,"gridOpacity":{"condition":{"test":"datum.value===0","value":0},"value":0.5}}},"y2":{"field":"hi"}}},
{"data":{"name":"heat"},"mark":{"type":"rect","strokeWidth":0.6},"encoding":{"x":{"field":"x","type":"quantitative","bin":{"extent":[0,0.99],"step":0.03,"nice":false}},"y":{"field":"y","type":"quantitative","bin":{"extent":[-0.349,0.331],"step":0.02,"nice":false}},"color":{"aggregate":"sum","field":"n","type":"quantitative","legend":null,"scale":{"domain":[1,2,3,4,5,6,7,8,9,10],"range":["#a9c6ee","#9dc1ef","#8ab9f2","#72b1f5","#55a9f8","#31a3f8","#2a92e2","#2c82c8","#3a6fa5","#3f5a7d"]}},"stroke":{"aggregate":"sum","field":"n","type":"quantitative","legend":null,"scale":{"domain":[1,2,3,4,5,6,7,8,9,10],"range":["#a9c6ee","#9dc1ef","#8ab9f2","#72b1f5","#55a9f8","#31a3f8","#2a92e2","#2c82c8","#3a6fa5","#3f5a7d"]}}}},
{"data":{"values":[{"v":0}]},"mark":{"type":"rule","color":"green","strokeWidth":2.08,"strokeDash":[7.7,3.3]},"encoding":{"y":{"field":"v","type":"quantitative"}}}
]},{"width":526,"height":359,"layer":[
{"data":{"name":"hist"},"mark":{"type":"bar","opacity":0.5,"binSpacing":-0.2},"encoding":{"x":{"field":"x","type":"quantitative","bin":{"extent":[0,0.99],"step":0.03,"nice":false},"scale":{"domain":[0,1],"nice":false},"title":"Prediction","axis":{"values":[0,0.2,0.4,0.6,0.8,1],"format":".1f","grid":true,"titlePadding":7}},"y":{"aggregate":"sum","field":"f","type":"quantitative","stack":null,"scale":{"domain":[0,16363],"nice":false},"title":"Frequency","axis":{"values":[0,2000,4000,6000,8000,10000,12000,14000,16000],"format":"d","grid":true,"titlePadding":5}},"fill":{"field":"s","type":"nominal","scale":{"domain":["Prediction clean","Prediction upward tilt"],"range":["#1f77b4","#ff7f0e"]},"legend":{"title":null,"orient":"none","legendX":320,"legendY":423,"labelFontSize":13.9,"labelColor":"black","symbolType":"M-1,-0.36H1V0.36H-1Z","symbolSize":784,"symbolOpacity":0.5,"symbolStrokeWidth":0,"symbolOffset":2,"clipHeight":15,"fillColor":"rgba(255,255,255,0.8)","strokeColor":"#cccccc","cornerRadius":4,"padding":4,"rowPadding":7,"labelOffset":11,"zindex":2}}}},
{"data":{"name":"kde"},"mark":{"type":"line","strokeWidth":2.08,"interpolate":"monotone","clip":true},"encoding":{"x":{"field":"x","type":"quantitative"},"y":{"field":"f","type":"quantitative"},"stroke":{"field":"s","type":"nominal","legend":null,"scale":{"domain":["Prediction clean","Prediction upward tilt"],"range":["#1f77b4","#ff7f0e"]}}}}
]}]}
